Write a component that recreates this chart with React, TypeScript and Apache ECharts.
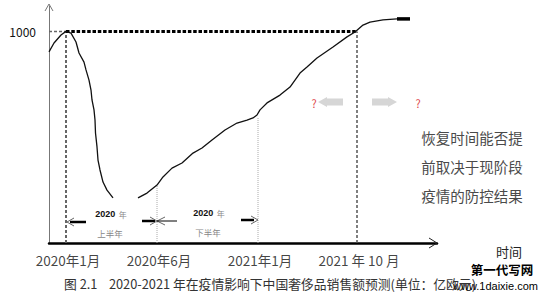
import React, { useEffect, useRef } from "react";
import * as echarts from "echarts";

// x is an abstract schematic time scale (0 = y-axis), y is sales value
const tickPositions = [17, 108, 209, 308];
const tickLabels = ["2020年1月", "2020年6月", "2021年1月", "2021 年 10 月"];
const verticalTops = [1000, 274, 591, 1000];
const referenceLevel = 1000;

const curveFirstHalf: [number, number][] = [
  [0, 903], [5, 945], [12, 983], [17, 1000], [22, 992], [27, 950], [30, 898],
  [35, 855], [37, 818], [40, 770], [42, 723], [43, 676], [45, 629], [46, 581],
  [46.5, 520], [48, 454], [49, 392], [51, 345], [54, 288], [58, 250], [64, 213],
];
const curveRecovery: [number, number][] = [
  [89, 213], [98, 236], [108, 274], [114, 312], [123, 354], [133, 378],
  [144, 425], [153, 449], [163, 487], [176, 534], [188, 567], [198, 581],
  [204, 591], [208, 605], [211, 629], [218, 662], [231, 699], [241, 737],
  [251, 803], [258, 832], [268, 874], [284, 926], [298, 974], [306, 997],
  [314, 1030], [321, 1044], [334, 1054], [348, 1059],
];
const curvePlateau: [number, number][] = [[348, 1059], [361, 1059]];

const rightNote = ["恢复时间能否提", "前取决于现阶段", "疫情的防控结果"];
const caption = "图 2.1    2020-2021 年在疫情影响下中国奢侈品销售额预测(单位：亿欧元)";

const FONT = "'Noto Sans CJK SC', 'Noto Sans', sans-serif";

export default function App() {
  const ref = useRef<HTMLDivElement>(null);
  useEffect(() => {
    if (!ref.current) return;
    const chart = echarts.init(ref.current, undefined, { renderer: "svg" });
    const lineSeries = (data: [number, number][], style: any, z = 2) => ({
      type: "line",
      data,
      symbol: "none",
      silent: true,
      clip: false,
      z,
      lineStyle: style,
    });
    const verticalStyles = [
      { color: "#666", width: 2, type: [3, 2] },
      { color: "#aaa", width: 1, type: [1, 1] },
      { color: "#aaa", width: 1, type: [1, 1] },
      { color: "#555", width: 1.5, type: [3, 2] },
    ];
    const series: any[] = [
      lineSeries(curveFirstHalf, { color: "#111", width: 1.3 }, 5),
      lineSeries(curveRecovery, { color: "#111", width: 1.3 }, 5),
      lineSeries(curvePlateau, { color: "#000", width: 3.5 }, 5),
      lineSeries([[0, referenceLevel], [tickPositions[0], referenceLevel]], { color: "#666", width: 1.5, type: [3, 2] }, 3),
      lineSeries([[tickPositions[0], referenceLevel], [tickPositions[3], referenceLevel]], { color: "#000", width: 3, type: [3.5, 1.8] }, 4),
      ...tickPositions.map((x, i) =>
        lineSeries([[x, 0], [x, verticalTops[i]]], verticalStyles[i], 3)
      ),
      {
        type: "scatter",
        symbolSize: 0,
        silent: true,
        clip: false,
        data: tickPositions.map((x, i) => ({ value: [x, 0], name: tickLabels[i] })),
        label: {
          show: true,
          position: "bottom",
          distance: 10,
          offset: [2, 0],
          formatter: (p: any) => p.name,
          fontSize: 13.5,
          color: "#111",
          fontFamily: FONT,
        },
      },
    ];

    const chevron = (points: number[][], stroke: string, lineWidth = 1) => ({
      type: "polyline",
      shape: { points },
      style: { stroke, lineWidth, fill: "none" },
      z: 10,
    });
    const seg = (x1: number, y1: number, x2: number, y2: number, stroke: string, lineWidth: number) => ({
      type: "line",
      shape: { x1, y1, x2, y2 },
      style: { stroke, lineWidth },
      z: 10,
    });
    const txt = (x: number, y: number, text: string, fontSize: number, fill: string, extra: any = {}) => ({
      type: "text",
      x,
      y,
      z: 10,
      style: {
        text,
        fontSize,
        fill,
        fontFamily: FONT,
        textAlign: "center",
        textVerticalAlign: "middle",
        ...extra,
      },
    });
    const yearRich = {
      a: { fontSize: 9, fontWeight: "bold", fill: "#111", fontFamily: "Liberation Sans" },
      b: { fontSize: 8, fill: "#888", fontFamily: FONT },
    };

    const graphic: any[] = [
      // axis arrow heads
      chevron([[45, 11], [49, 4], [53, 11]], "#777"),
      chevron([[429, 238], [437, 243], [429, 248]], "#222"),
      // period arrows
      seg(70, 222, 86, 222, "#000", 2.5),
      chevron([[74, 218], [67, 222], [74, 226]], "#666"),
      seg(142, 221, 155, 221, "#000", 2.5),
      chevron([[150, 217], [157, 221], [150, 225]], "#666"),
      chevron([[165, 217], [157, 221], [165, 225]], "#666"),
      seg(157, 221, 177, 221, "#000", 1),
      seg(241, 220, 254, 220, "#000", 2.5),
      chevron([[251, 216], [258, 220], [251, 224]], "#666"),
      {
        type: "text", x: 111, y: 214, z: 10,
        style: { text: "{a|2020} {b|年}", textAlign: "center", textVerticalAlign: "middle", rich: yearRich },
      },
      txt(110, 233, "上半年", 8.5, "#888"),
      {
        type: "text", x: 209, y: 213, z: 10,
        style: { text: "{a|2020} {b|年}", textAlign: "center", textVerticalAlign: "middle", rich: yearRich },
      },
      txt(208, 232, "下半年", 8.5, "#888"),
      // gray block arrows and question marks
      {
        type: "polygon", z: 10,
        shape: { points: [[318, 102], [327, 97], [327, 98.5], [343, 98.5], [343, 105.5], [327, 105.5], [327, 107]] },
        style: { fill: "#d6d6d6" },
      },
      {
        type: "polygon", z: 10,
        shape: { points: [[397, 102], [388, 97], [388, 98.5], [372, 98.5], [372, 105.5], [388, 105.5], [388, 107]] },
        style: { fill: "#d6d6d6" },
      },
      txt(314, 103, "?", 11, "#e04848"),
      txt(418, 103, "?", 11, "#e04848"),
      // note
      ...rightNote.map((t, i) => txt(472, 137 + i * 29, t, 14.5, "#4a4a4a")),
      txt(509, 251, "时间", 13, "#222"),
      txt(64, 283, caption, 12.8, "#333", { textAlign: "left" }),
      txt(502, 269, "第一代写网", 12.5, "#000", { fontWeight: "bold" }),
      txt(538, 286, "www.1daixie.com", 11, "#000", { textAlign: "right", fontFamily: "Liberation Sans" }),
    ];

    chart.setOption({
      animation: false,
      textStyle: { fontFamily: FONT },
      grid: { left: 49, right: 103, top: 6, bottom: 58 },
      xAxis: {
        type: "value",
        min: 0,
        max: 388,
        axisLine: { show: true, lineStyle: { color: "#000", width: 2.5 } },
        axisTick: { show: false },
        axisLabel: { show: false },
        splitLine: { show: false },
      },
      yAxis: {
        type: "value",
        min: 0,
        max: 1120,
        interval: 1000,
        axisLine: { show: true, lineStyle: { color: "#777", width: 1 } },
        axisTick: { show: false },
        splitLine: { show: false },
        axisLabel: {
          margin: 13,
          fontSize: 12,
          color: "#111",
          formatter: (v: number) => (v === referenceLevel ? String(v) : ""),
        },
      },
      series,
      graphic,
    });
    return () => chart.dispose();
  }, []);
  return (
    <div
      ref={ref}
      style={{ position: "fixed", left: 0, top: 0, width: 540, height: 301, background: "#fff" }}
    />
  );
}
